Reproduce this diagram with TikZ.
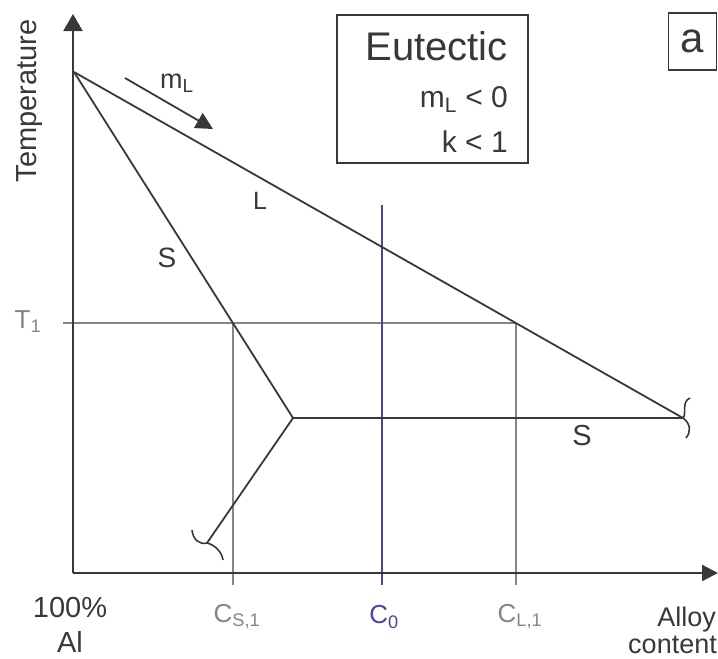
\documentclass[tikz,border=0pt]{standalone}
\usepackage{fontspec}
\setmainfont{Liberation Sans}
\usetikzlibrary{arrows.meta}
\definecolor{darkline}{HTML}{383838}
\definecolor{thingray}{HTML}{858585}
\definecolor{cblue}{HTML}{4646A6}

\tikzset{
  mainline/.style={line width=1.8pt, darkline},
  guide/.style={line width=1.3pt, thingray},
  lbl/.style={inner sep=0pt, text=darkline},
}
\newcommand{\fs}[1]{\fontsize{#1}{#1}\selectfont}

\begin{document}
\begin{tikzpicture}[x=1pt, y=-1pt]
  \useasboundingbox (0,0) rectangle (718,659);

  % Points of the diagram
  \coordinate (O) at (73,573);
  \coordinate (Ytop) at (73,14);
  \coordinate (Xend) at (718,573);
  \coordinate (Apex) at (74,72);
  \coordinate (Eut) at (683,418);
  \coordinate (Kink) at (293,418);
  \coordinate (SolEnd) at (207,543);
  \coordinate (T1tick) at (63,323);
  \coordinate (CS1top) at (233,323);
  \coordinate (CS1bot) at (233,585);
  \coordinate (CL1top) at (516,323);
  \coordinate (CL1bot) at (516,585);
  \coordinate (C0top) at (382,205);
  \coordinate (C0bot) at (382,585);
  \coordinate (mLstart) at (125,78);
  \coordinate (mLend) at (213,129);

  % Guide lines at T1
  \draw[guide] (T1tick) -- (CL1top);
  \draw[guide] (CS1top) -- (CS1bot);
  \draw[guide] (CL1top) -- (CL1bot);

  % Alloy composition C0
  \draw[line width=1.6pt, cblue] (C0top) -- (C0bot);

  % Axes
  \draw[line width=2.2pt, darkline, -{Triangle[length=17pt, width=19pt]}] (O) -- (Ytop);
  \draw[line width=2.2pt, darkline, -{Triangle[length=16pt, width=16pt]}] (O) -- (Xend);

  % Liquidus, solidus and eutectic line
  \draw[mainline] (Apex) -- (Eut);
  \draw[mainline, line join=miter] (Apex) -- (Kink) -- (SolEnd);
  \draw[mainline] (Kink) -- (Eut);

  % Broken ends
  \draw[mainline, line width=1.6pt] (690,398) .. controls (681,402) and (687,414) .. (Eut)
    .. controls (691,424) and (691,432) .. (686,438);
  \draw[mainline, line width=1.6pt] (192,530) .. controls (193,540) and (200,545) .. (SolEnd)
    .. controls (215,545) and (222,552) .. (223,560);

  % Slope arrow
  \draw[mainline, -{Triangle[length=17pt, width=17pt]}] (mLstart) -- (mLend);
  \node[lbl, anchor=base west, font=\fs{27}] (mL) at (160,88) {m\textsubscript{L}};

  % Line labels
  \node[lbl, font=\fs{25}] (Llab) at (260,201) {L};
  \node[lbl, font=\fs{28}] (Slab) at (167,258) {S};
  \node[lbl, font=\fs{29}] (Seut) at (582,436) {S};

  % Axis labels
  \node[lbl, rotate=90, font=\fs{29}] (temp) at (30,101) {Temperature};
  \node[lbl, text=thingray, font=\fs{26}] (T1) at (28,322) {T\textsubscript{1}};
  \node[lbl, anchor=base, font=\fs{29}] (pct) at (70,617) {100\%};
  \node[lbl, anchor=base, font=\fs{29}] (Al) at (70,652) {Al};
  \node[lbl, text=thingray, font=\fs{26}] (CS1) at (237,617) {C\textsubscript{S,1}};
  \node[lbl, text=cblue, font=\fs{26}] (C0) at (384,617) {C\textsubscript{0}};
  \node[lbl, text=thingray, font=\fs{26}] (CL1) at (520,617) {C\textsubscript{L,1}};
  \node[lbl, anchor=base east, font=\fs{27}] (alloy) at (716,626) {Alloy};
  \node[lbl, anchor=base east, font=\fs{27}] (content) at (717,653) {content};

  % Legend box
  \node[draw=darkline, line width=1.5pt, minimum width=191pt, minimum height=148pt,
    inner sep=0pt] (legend) at (432.5,89) {};
  \node[lbl, anchor=base east, font=\fs{40}] (eutectic) at (508,60) {Eutectic};
  \node[lbl, anchor=base east, font=\fs{30}] (mLcond) at (508,107) {m\textsubscript{L} < 0};
  \node[lbl, anchor=base east, font=\fs{30}] (kcond) at (508,152) {k < 1};

  % Panel letter
  \node[draw=darkline, line width=1.5pt, minimum width=48pt, minimum height=57pt,
    inner sep=0pt, text=darkline, font=\fs{42}] (panel) at (692.5,41.5) {a};
\end{tikzpicture}
\end{document}
